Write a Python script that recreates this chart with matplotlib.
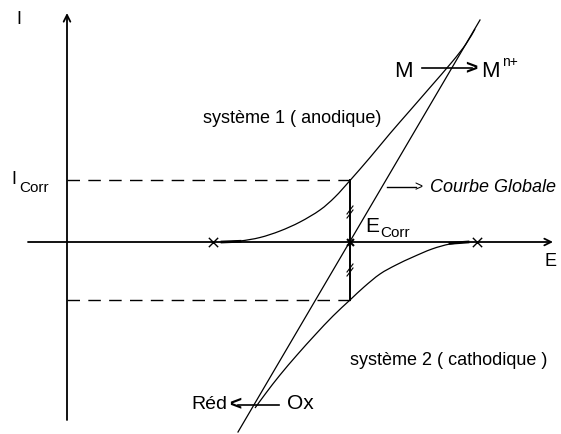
import matplotlib.pyplot as plt
from matplotlib.path import Path
from matplotlib.patches import PathPatch

plt.rcParams['font.family'] = ['Liberation Sans', 'DejaVu Sans']

# schematic drawn in picture units (x to the right, y downwards)
origin_x = 67
axis_y = 242
e_corr = 350
i_corr_up = 180
i_corr_down = 300

# anodic curve (système 1), from the cross on the axis up to the top
anodic_x = [222, 240, 260, 280, 300, 320, 335, 350, 370, 390, 410, 430, 452, 466, 475]
anodic_y = [242, 241, 237.5, 231, 222, 210, 197, 180.5, 157.5, 133.5, 110.5, 87.5, 62, 44, 29]

# cathodic curve (système 2), from the cross on the axis down to the bottom
cathodic_x = [468, 450, 432, 413, 396, 380, 364, 350, 333, 315, 297, 280, 266, 255]
cathodic_y = [242, 244, 249, 257, 265, 274, 287, 300, 316, 335, 355, 375, 393, 408]

# global curve (straight line)
global_x = [238, 480]
global_y = [432, 20]

# crosses on the E axis
cross_x = [213, 477]


def smooth(ax, xs, ys, **kw):
    # Catmull-Rom through the points, drawn as cubic Bezier segments
    pts = list(zip(xs, ys))
    verts = [pts[0]]
    codes = [Path.MOVETO]
    for i in range(len(pts) - 1):
        p0 = pts[i - 1] if i > 0 else pts[i]
        p1, p2 = pts[i], pts[i + 1]
        p3 = pts[i + 2] if i + 2 < len(pts) else pts[i + 1]
        c1 = (p1[0] + (p2[0] - p0[0]) / 6, p1[1] + (p2[1] - p0[1]) / 6)
        c2 = (p2[0] - (p3[0] - p1[0]) / 6, p2[1] - (p3[1] - p1[1]) / 6)
        verts += [c1, c2, p2]
        codes += [Path.CURVE4] * 3
    ax.add_patch(PathPatch(Path(verts, codes), fill=False, **kw))


fig = plt.figure(figsize=(5.61, 4.34), dpi=100)
ax = fig.add_axes([0, 0, 1, 1])
ax.set_xlim(0, 561)
ax.set_ylim(434, 0)
ax.axis('off')

k = 'black'

# axes with arrows
ax.annotate('', xy=(origin_x, 13), xytext=(origin_x, 420),
            arrowprops=dict(arrowstyle='->', lw=1.3, color=k, mutation_scale=12, shrinkA=0, shrinkB=0))
ax.annotate('', xy=(553, axis_y), xytext=(28, axis_y),
            arrowprops=dict(arrowstyle='->', lw=1.3, color=k, mutation_scale=12, shrinkA=0, shrinkB=0))

# dashed levels and vertical segment at E_corr
ax.plot([origin_x, e_corr], [i_corr_up, i_corr_up], color=k, lw=1, ls=(0, (9, 6)))
ax.plot([origin_x, e_corr], [i_corr_down, i_corr_down], color=k, lw=1, ls=(0, (9, 6)))
ax.plot([e_corr, e_corr], [i_corr_up, i_corr_down], color=k, lw=1.4)

# equal-length marks
for ym in [212, 270]:
    for dy in [-2, 2]:
        ax.plot([e_corr - 3, e_corr + 3], [ym + dy + 4, ym + dy - 4], color=k, lw=0.8)

# curves
smooth(ax, anodic_x, anodic_y, edgecolor=k, lw=0.9)
smooth(ax, cathodic_x, cathodic_y, edgecolor=k, lw=0.9)
ax.plot(global_x, global_y, color=k, lw=0.9)
ax.plot([222, 240], [242, 241.3], color=k, lw=2)
ax.plot([450, 468], [243.3, 242], color=k, lw=2)

ax.scatter(cross_x, [axis_y] * 2, marker='x', s=45, color=k, lw=1)
ax.scatter([e_corr], [axis_y], marker='x', s=25, color=k, lw=1.5)

# axis labels
ax.text(16, 19, 'I', fontsize=13, va='center', ha='left')
ax.text(545, 262, 'E', fontsize=13, va='center', ha='left')
ax.text(11, 179, 'I', fontsize=13, va='center', ha='left')
ax.text(19, 192, 'Corr', fontsize=11, va='baseline', ha='left')
ax.text(365, 232, 'E', fontsize=15, va='baseline', ha='left')
ax.text(380, 237, 'Corr', fontsize=11, va='baseline', ha='left')

# curve labels
ax.text(203, 123, 'système 1 ( anodique)', fontsize=13, va='baseline', ha='left')
ax.text(350, 365, 'système 2 ( cathodique )', fontsize=13, va='baseline', ha='left')

ax.plot([387, 416], [187, 187], color=k, lw=1)
ax.text(414, 187, '>', fontsize=10, va='center', ha='left')
ax.text(430, 187, 'Courbe Globale', fontsize=13, style='italic', va='center', ha='left')

# M -> M^n+
ax.text(394, 77, 'M', fontsize=16, va='baseline', ha='left')
ax.plot([422, 472], [68, 68], color=k, lw=1.2)
ax.text(465, 69, '>', fontsize=15, fontweight='bold', va='center', ha='left')
ax.text(481, 77, 'M', fontsize=16, va='baseline', ha='left')
ax.text(502, 66, 'n+', fontsize=10, va='baseline', ha='left')

# Réd <- Ox
ax.text(191, 409, 'Réd', fontsize=14, va='baseline', ha='left')
ax.text(229, 405, '<', fontsize=15, fontweight='bold', va='center', ha='left')
ax.plot([238, 279], [405, 405], color=k, lw=1.2)
ax.text(287, 409, 'Ox', fontsize=15, va='baseline', ha='left')

fig.savefig('out.png', dpi=100)
